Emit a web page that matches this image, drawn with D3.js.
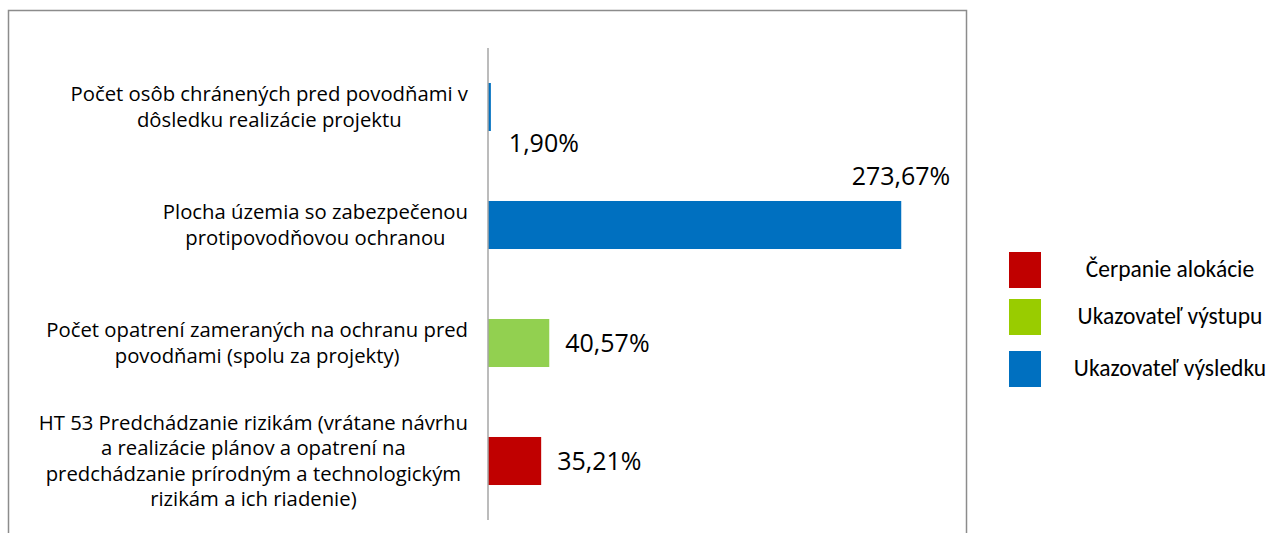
<!DOCTYPE html>
<html>
<head>
<meta charset="utf-8">
<script src="https://cdn.jsdelivr.net/npm/d3@7"></script>
<style>
  html, body { margin: 0; padding: 0; background: #fff; }
  svg { display: block; }
</style>
</head>
<body>
<div id="chart"></div>
<script>
// categories, top to bottom, already broken into lines the way the original wraps them
var categories = [
  ["Počet osôb chránených pred povodňami v", "dôsledku realizácie projektu"],
  ["Plocha územia so zabezpečenou", "protipovodňovou ochranou"],
  ["Počet opatrení zameraných na ochranu pred", "povodňami (spolu za projekty)"],
  ["HT 53 Predchádzanie rizikám (vrátane návrhu", "a realizácie plánov a opatrení na",
   "predchádzanie prírodným a technologickým", "rizikám a ich riadenie)"]
]
var values = [1.90, 273.67, 40.57, 35.21]
var seriesOf = ["vysledok", "vysledok", "vystup", "alokacia"]

var legendKeys = ["alokacia", "vystup", "vysledok"]
var legendLabels = ["Čerpanie alokácie", "Ukazovateľ výstupu", "Ukazovateľ výsledku"]

var barColors = { alokacia: "#C00000", vystup: "#92D050", vysledok: "#0070C0" }
var legendColors = { alokacia: "#C00000", vystup: "#99CC00", vysledok: "#0070C0" }

var width = 1269, height = 533

var svg = d3.select("#chart").append("svg")
  .attr("width", width)
  .attr("height", height)

// outer chart frame (runs off the bottom of the picture)
svg.append("rect")
  .attr("x", 8.5).attr("y", 10.5)
  .attr("width", 958).attr("height", 560)
  .attr("fill", "none")
  .attr("stroke", "#8c8c8c")
  .attr("stroke-width", 1.5)

var x = d3.scaleLinear().domain([0, 300]).range([488, 941])
var y = d3.scaleBand()
  .domain(d3.range(values.length))
  .range([48, 520])
  .paddingInner(0.593)
  .paddingOuter(0.2965)

var pct = d3.formatLocale({ decimal: ",", thousands: " ", grouping: [3], currency: ["", ""] })
var fmt = function(v) { return pct.format(".2f")(v) + "%" }

// bars
svg.selectAll("rect.bar")
  .data(values)
  .enter().append("rect")
  .attr("class", "bar")
  .attr("x", x(0))
  .attr("y", function(d, i) { return y(i) })
  .attr("width", function(d) { return x(d) - x(0) })
  .attr("height", y.bandwidth())
  .attr("fill", function(d, i) { return barColors[seriesOf[i]] })

// vertical category axis line
svg.append("line")
  .attr("x1", x(0)).attr("x2", x(0))
  .attr("y1", y.range()[0]).attr("y2", y.range()[1])
  .attr("stroke", "#a6a6a6")
  .attr("stroke-width", 1.5)

// value labels - the first two were dragged around by hand in the original
var labelFont = "'Century Gothic', 'Open Sans', sans-serif"
svg.selectAll("text.val")
  .data(values)
  .enter().append("text")
  .attr("class", "val")
  .attr("font-family", labelFont)
  .attr("font-size", 25)
  .attr("fill", "#000")
  .text(fmt)
  .each(function(d, i) {
    var t = d3.select(this)
    var end = x(d)
    if (i === 0) {
      t.attr("x", end + 18).attr("y", y(i) + y.bandwidth() + 21)
    } else if (i === 1) {
      t.attr("text-anchor", "end").attr("x", end + 49).attr("y", y(i) - 16)
    } else {
      t.attr("x", end + 16).attr("y", y(i) + y.bandwidth() / 2 + 9)
    }
  })

// category labels: lines centred inside a block that is right-aligned to the axis
var catRight = 468, lineH = 25.5
var cats = svg.selectAll("g.cat")
  .data(categories)
  .enter().append("g")
  .attr("class", "cat")

cats.each(function(lines, i) {
  var g = d3.select(this)
  var mid = y(i) + y.bandwidth() / 2
  var texts = g.selectAll("text")
    .data(lines)
    .enter().append("text")
    .attr("font-family", labelFont)
    .attr("font-size", 20.3)
    .attr("fill", "#000")
    .attr("text-anchor", "middle")
    .attr("y", function(l, j) { return mid + (j - (lines.length - 1) / 2) * lineH + 7 })
    .text(function(l) { return l })
  var w = d3.max(texts.nodes(), function(n) { return n.getComputedTextLength() })
  texts.attr("x", catRight - w / 2)
})

// legend
var legendY = [252, 299, 351]
var leg = svg.selectAll("g.leg")
  .data(legendKeys)
  .enter().append("g")
  .attr("class", "leg")
  .attr("transform", function(d, i) { return "translate(1009," + legendY[i] + ")" })

leg.append("rect")
  .attr("width", 32).attr("height", 36)
  .attr("fill", function(d) { return legendColors[d] })

leg.append("text")
  .attr("x", 161).attr("y", 25)
  .attr("text-anchor", "middle")
  .attr("font-family", "Carlito, Lato, sans-serif")
  .attr("font-size", 23.5)
  .attr("fill", "#000")
  .text(function(d, i) { return legendLabels[i] })
</script>
</body>
</html>
